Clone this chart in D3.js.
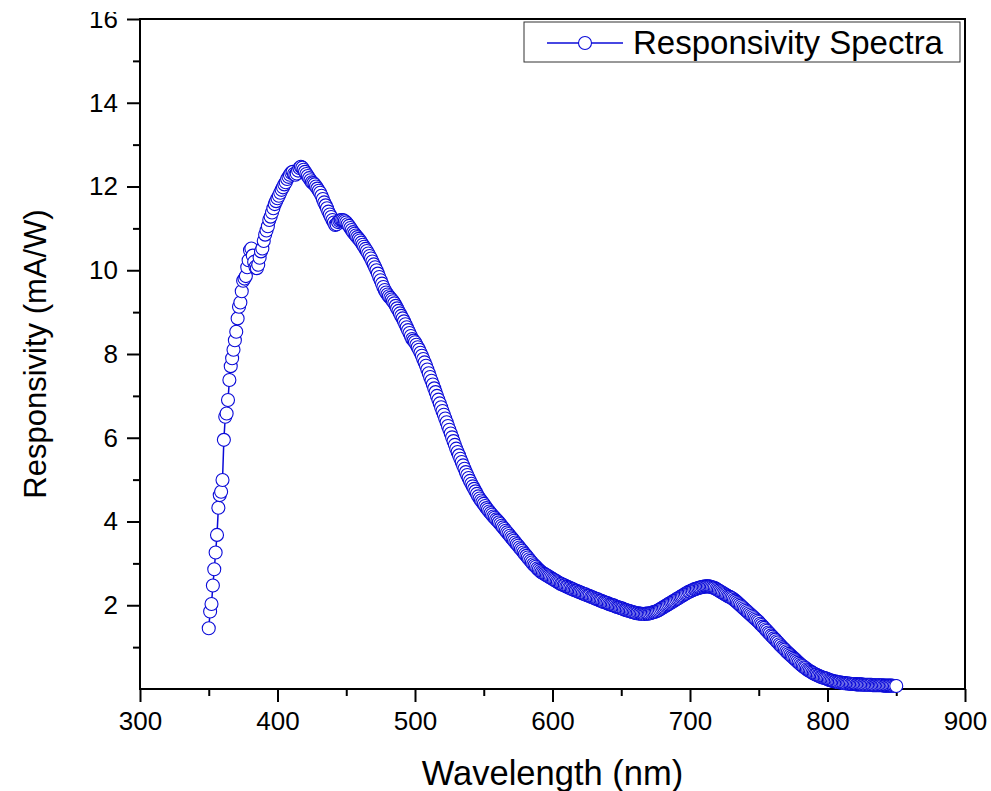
<!DOCTYPE html>
<html lang="en">
<head>
  <meta charset="UTF-8" />
  <title>Responsivity Spectra</title>
  <script src="https://cdnjs.cloudflare.com/ajax/libs/d3/7.8.5/d3.min.js"></script>
  <style>
    html, body {
      margin: 0;
      padding: 0;
      background: #fff;
      overflow: hidden;
    }
    svg { display: block; font-family: "Liberation Sans", Arial, sans-serif; }
  </style>
</head>
<body>
  <script>
    // ----------------------------
    // Data: one reading per nm, split in three stretches
    // ----------------------------
    const riseStart = 350; // 350 - 439 nm
    const riseValues = [
      1.45, 1.85, 2.03, 2.47, 2.86, 3.26, 3.68, 4.33, 4.63, 4.71,
      4.99, 5.95, 6.50, 6.58, 6.90, 7.38, 7.71, 7.90, 8.10, 8.33,
      8.53, 8.85, 9.13, 9.23, 9.50, 9.75, 9.80, 9.86, 10.07, 10.24,
      10.48, 10.52, 10.35, 10.20, 10.08, 10.05, 10.13, 10.30, 10.45, 10.52,
      10.70, 10.85, 10.95, 11.05, 11.20, 11.28, 11.38, 11.48, 11.58, 11.65,
      11.72, 11.78, 11.85, 11.92, 11.98, 12.05, 12.10, 12.18, 12.23, 12.28,
      12.33, 12.35, 12.30, 12.28, 12.31, 12.38, 12.44, 12.47, 12.45, 12.40,
      12.35, 12.30, 12.25, 12.20, 12.15, 12.10, 12.08, 12.05, 12.00, 11.95,
      11.90, 11.85, 11.78, 11.70, 11.62, 11.55, 11.48, 11.40, 11.33, 11.27
    ];

    const decayStart = 440; // 440 - 639 nm
    const decayValues = [
      11.20, 11.14, 11.08, 11.10, 11.15, 11.18, 11.20, 11.20, 11.19, 11.17,
      11.14, 11.10, 11.06, 11.01, 10.96, 10.91, 10.87, 10.83, 10.79, 10.75,
      10.71, 10.66, 10.61, 10.56, 10.51, 10.46, 10.40, 10.34, 10.28, 10.21,
      10.14, 10.07, 10.00, 9.92, 9.84, 9.76, 9.68, 9.60, 9.53, 9.47,
      9.42, 9.38, 9.34, 9.30, 9.26, 9.21, 9.15, 9.09, 9.03, 8.97,
      8.91, 8.85, 8.78, 8.71, 8.64, 8.57, 8.50, 8.43, 8.36, 8.32,
      8.28, 8.22, 8.16, 8.10, 8.03, 7.96, 7.88, 7.80, 7.72, 7.63,
      7.54, 7.45, 7.36, 7.27, 7.18, 7.09, 7.00, 6.91, 6.82, 6.73,
      6.64, 6.55, 6.46, 6.37, 6.28, 6.19, 6.10, 6.01, 5.92, 5.83,
      5.74, 5.66, 5.58, 5.50, 5.42, 5.34, 5.26, 5.18, 5.11, 5.04,
      4.97, 4.90, 4.84, 4.78, 4.72, 4.66, 4.60, 4.55, 4.50, 4.46,
      4.42, 4.37, 4.32, 4.28, 4.24, 4.20, 4.16, 4.12, 4.09, 4.05,
      4.02, 3.98, 3.94, 3.90, 3.86, 3.82, 3.78, 3.74, 3.70, 3.66,
      3.62, 3.58, 3.54, 3.50, 3.46, 3.42, 3.38, 3.34, 3.30, 3.26,
      3.22, 3.18, 3.14, 3.10, 3.06, 3.02, 2.98, 2.95, 2.92, 2.88,
      2.85, 2.82, 2.79, 2.77, 2.75, 2.73, 2.71, 2.69, 2.67, 2.65,
      2.63, 2.61, 2.59, 2.57, 2.55, 2.53, 2.51, 2.50, 2.48, 2.47,
      2.45, 2.44, 2.42, 2.41, 2.39, 2.38, 2.36, 2.35, 2.34, 2.32,
      2.31, 2.30, 2.28, 2.27, 2.26, 2.24, 2.23, 2.22, 2.20, 2.19,
      2.18, 2.16, 2.15, 2.14, 2.12, 2.11, 2.10, 2.08, 2.07, 2.06
    ];

    const nirStart = 640; // 640 - 850 nm
    const nirValues = [
      2.05, 2.03, 2.02, 2.01, 2.00, 1.99, 1.97, 1.96, 1.95, 1.94,
      1.93, 1.92, 1.90, 1.89, 1.88, 1.87, 1.86, 1.85, 1.84, 1.83,
      1.82, 1.81, 1.81, 1.80, 1.80, 1.79, 1.79, 1.79, 1.80, 1.80,
      1.80, 1.81, 1.82, 1.83, 1.84, 1.85, 1.86, 1.88, 1.90, 1.92,
      1.94, 1.96, 1.98, 2.00, 2.02, 2.04, 2.06, 2.08, 2.10, 2.12,
      2.14, 2.16, 2.18, 2.20, 2.22, 2.24, 2.26, 2.28, 2.30, 2.32,
      2.33, 2.35, 2.36, 2.38, 2.39, 2.40, 2.41, 2.42, 2.43, 2.44,
      2.44, 2.45, 2.45, 2.45, 2.45, 2.44, 2.43, 2.42, 2.41, 2.39,
      2.37, 2.35, 2.33, 2.31, 2.29, 2.27, 2.25, 2.23, 2.21, 2.20,
      2.18, 2.16, 2.13, 2.11, 2.08, 2.05, 2.02, 1.99, 1.96, 1.93,
      1.90, 1.87, 1.84, 1.81, 1.78, 1.75, 1.72, 1.69, 1.66, 1.63,
      1.60, 1.56, 1.53, 1.49, 1.46, 1.42, 1.39, 1.35, 1.32, 1.28,
      1.25, 1.21, 1.18, 1.14, 1.11, 1.07, 1.04, 1.00, 0.97, 0.94,
      0.90, 0.87, 0.84, 0.81, 0.78, 0.75, 0.72, 0.69, 0.66, 0.63,
      0.60, 0.57, 0.55, 0.52, 0.50, 0.47, 0.45, 0.43, 0.41, 0.39,
      0.37, 0.35, 0.34, 0.32, 0.31, 0.29, 0.28, 0.27, 0.26, 0.25,
      0.24, 0.22, 0.21, 0.20, 0.19, 0.18, 0.18, 0.17, 0.16, 0.16,
      0.15, 0.15, 0.14, 0.14, 0.13, 0.13, 0.13, 0.12, 0.12, 0.12,
      0.12, 0.11, 0.11, 0.11, 0.11, 0.11, 0.10, 0.10, 0.10, 0.10,
      0.10, 0.10, 0.10, 0.09, 0.09, 0.09, 0.09, 0.09, 0.09, 0.09,
      0.09, 0.08, 0.08, 0.08, 0.08, 0.08, 0.08, 0.08, 0.07, 0.07,
      0.07
    ];

    const xMajorTicks = [300, 400, 500, 600, 700, 800, 900];
    const xMinorTicks = [350, 450, 550, 650, 750, 850];
    const yMajorTicks = [2, 4, 6, 8, 10, 12, 14, 16];
    const yMinorTicks = [1, 3, 5, 7, 9, 11, 13, 15];

    const seriesName = "Responsivity Spectra";
    const xLabel = "Wavelength (nm)";
    const yLabel = "Responsivity (mA/W)";

    // pair wavelengths with readings
    function toPoints(start, values) {
      return values.map((v, i) => ({ nm: start + i, r: v }));
    }
    const points = [].concat(
      toPoints(riseStart, riseValues),
      toPoints(decayStart, decayValues),
      toPoints(nirStart, nirValues)
    );

    // ----------------------------
    // Layout
    // ----------------------------
    const width = 991, height = 791;
    const margin = { top: 19, right: 26, bottom: 102, left: 140 };
    const plotW = width - margin.left - margin.right;
    const plotH = height - margin.top - margin.bottom;
    const blue = "#0a0ad8";

    const svg = d3.select("body").append("svg")
      .attr("width", width)
      .attr("height", height);

    const x = d3.scaleLinear().domain([300, 900]).range([0, plotW]);
    const y = d3.scaleLinear().domain([0, 16]).range([plotH, 0]);

    const g = svg.append("g")
      .attr("transform", `translate(${margin.left},${margin.top})`);

    // ----------------------------
    // Axes (major + minor ticks, outward)
    // ----------------------------
    function styleAxis(sel) {
      sel.select(".domain").remove();
      sel.selectAll(".tick line").attr("stroke", "#000").attr("stroke-width", 2);
      sel.selectAll(".tick text")
        .attr("fill", "#000")
        .style("font-size", "26px")
        .style("font-family", '"Liberation Sans", Arial, sans-serif');
    }

    g.append("g")
      .attr("transform", `translate(0,${plotH})`)
      .call(d3.axisBottom(x).tickValues(xMajorTicks).tickSize(13).tickPadding(10).tickFormat(d3.format("d")))
      .call(styleAxis);

    g.append("g")
      .attr("transform", `translate(0,${plotH})`)
      .call(d3.axisBottom(x).tickValues(xMinorTicks).tickSize(7).tickFormat(""))
      .call(styleAxis);

    g.append("g")
      .call(d3.axisLeft(y).tickValues(yMajorTicks).tickSize(13).tickPadding(9).tickFormat(d3.format("d")))
      .call(styleAxis);

    g.append("g")
      .call(d3.axisLeft(y).tickValues(yMinorTicks).tickSize(7).tickFormat(""))
      .call(styleAxis);

    // frame
    g.append("rect")
      .attr("x", 0).attr("y", 0)
      .attr("width", plotW).attr("height", plotH)
      .attr("fill", "none")
      .attr("stroke", "#000")
      .attr("stroke-width", 2);

    // ----------------------------
    // Series: line underneath, open circles on top
    // ----------------------------
    const line = d3.line()
      .x(d => x(d.nm))
      .y(d => y(d.r));

    g.append("path")
      .datum(points)
      .attr("fill", "none")
      .attr("stroke", blue)
      .attr("stroke-width", 1.5)
      .attr("d", line);

    g.append("g")
      .selectAll("circle")
      .data(points)
      .join("circle")
        .attr("cx", d => x(d.nm))
        .attr("cy", d => y(d.r))
        .attr("r", 6.5)
        .attr("fill", "#fff")
        .attr("stroke", blue)
        .attr("stroke-width", 1.1);

    // ----------------------------
    // Legend
    // ----------------------------
    const legend = svg.append("g").attr("transform", "translate(524,22)");
    legend.append("rect")
      .attr("width", 436).attr("height", 40)
      .attr("fill", "#fff")
      .attr("stroke", "#333")
      .attr("stroke-width", 1);
    legend.append("line")
      .attr("x1", 23).attr("x2", 99)
      .attr("y1", 21).attr("y2", 21)
      .attr("stroke", blue).attr("stroke-width", 1.5);
    legend.append("circle")
      .attr("cx", 61).attr("cy", 21).attr("r", 6.5)
      .attr("fill", "#fff").attr("stroke", blue).attr("stroke-width", 1.1);
    legend.append("text")
      .attr("x", 109).attr("y", 32)
      .style("font-size", "33px")
      .attr("fill", "#000")
      .text(seriesName);

    // ----------------------------
    // Axis titles
    // ----------------------------
    svg.append("text")
      .attr("x", margin.left + plotW / 2)
      .attr("y", 785)
      .attr("text-anchor", "middle")
      .style("font-size", "34.5px")
      .text(xLabel);

    svg.append("text")
      .attr("transform", `translate(46,${margin.top + plotH / 2}) rotate(-90)`)
      .attr("text-anchor", "middle")
      .style("font-size", "31px")
      .text(yLabel);

    // the source figure is cropped just above the plot, cutting the "16"
    svg.append("rect")
      .attr("x", 0).attr("y", 0)
      .attr("width", width).attr("height", 12)
      .attr("fill", "#fff");
  </script>
</body>
</html>
